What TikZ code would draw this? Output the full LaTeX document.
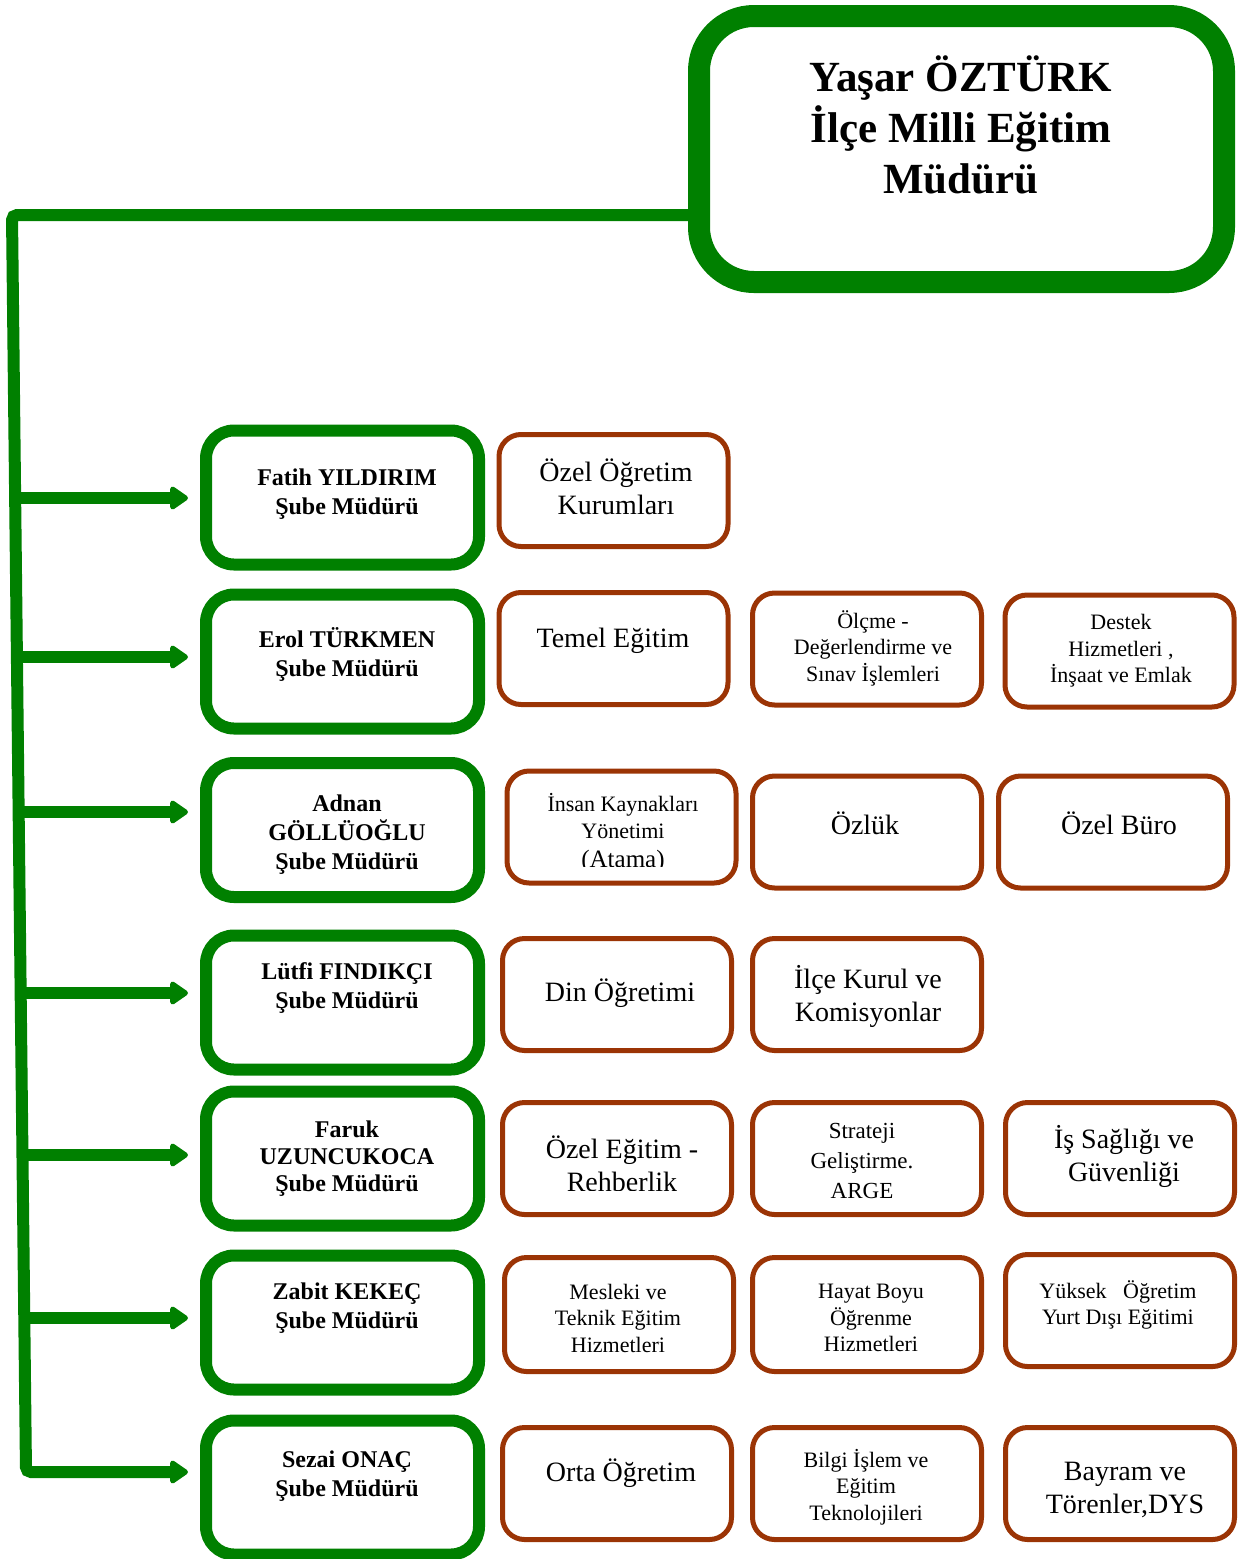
\documentclass[tikz,border=0pt]{standalone}
\usepackage{fontspec}
\setmainfont{Liberation Serif}
\usetikzlibrary{arrows.meta}
\definecolor{G}{RGB}{0,128,0}
\definecolor{Br}{RGB}{155,52,5}
\begin{document}
\begin{tikzpicture}[x=1pt,y=-1pt,
  gbox/.style={draw=G, line width=12pt, rounded corners=28pt, minimum width=273pt, minimum height=134pt, inner sep=0pt, outer sep=0pt},
  bbox/.style={draw=Br, line width=5pt, rounded corners=22pt, minimum width=229pt, minimum height=112pt, inner sep=0pt, outer sep=0pt},
  gtxt/.style={font=\fontsize{24}{29}\selectfont\bfseries, align=center, inner sep=0pt},
  ltxt/.style={font=\fontsize{28}{33}\selectfont, align=center, inner sep=0pt},
  stxt/.style={font=\fontsize{22}{26.5}\selectfont, align=center, inner sep=0pt},
  arr/.style={draw=G, line width=12pt, -{Triangle[length=20pt,width=26pt,round]}, shorten >=18pt},
]
\useasboundingbox (0,0) rectangle (1240,1559);

% main box
\node[draw=G, line width=22pt, rounded corners=55pt, minimum width=525pt, minimum height=266pt, outer sep=0pt] (main) at (961.5,149) {};
\node[font=\fontsize{43}{51}\selectfont\bfseries, align=center, inner sep=0pt] (mainT) at (961,125) {Yaşar ÖZTÜRK\\İlçe Milli Eğitim\\Müdürü};

% green boxes
\node[gbox] (g1) at (342.5,497.5) {};
\node[gbox] (g2) at (342.5,661.5) {};
\node[gbox] (g3) at (342.5,830) {};
\node[gbox] (g4) at (342.5,1002.5) {};
\node[gbox] (g5) at (342.5,1158.5) {};
\node[gbox] (g6) at (342.5,1322.5) {};
\node[gbox] (g7) at (342.5,1487.5) {};

\node[gtxt] (g1t) at (347,494) {Fatih YILDIRIM\\Şube Müdürü};
\node[gtxt] (g2t) at (347,654) {Erol TÜRKMEN\\Şube Müdürü};
\node[gtxt] (g3t) at (347,835) {Adnan\\GÖLLÜOĞLU\\Şube Müdürü};
\node[gtxt] (g4t) at (347,988) {Lütfi FINDIKÇI\\Şube Müdürü};
\node[gtxt, font=\fontsize{24}{27}\selectfont\bfseries] (g5t) at (347,1159) {Faruk\\UZUNCUKOCA\\Şube Müdürü};
\node[gtxt] (g6t) at (347,1308) {Zabit KEKEÇ\\Şube Müdürü};
\node[gtxt] (g7t) at (347,1476) {Sezai ONAÇ\\Şube Müdürü};

% connectors
\coordinate (tl) at (12,215);
\coordinate (bl) at (26,1472);
\draw[arr, rounded corners=5pt] (main.west |- tl) -- (tl) -- (bl) -- (bl -| g7.west);
\coordinate (j1) at (15.2,498);
\coordinate (j2) at (16.9,657);
\coordinate (j3) at (18.7,812);
\coordinate (j4) at (20.7,993);
\coordinate (j5) at (22.5,1155);
\coordinate (j6) at (24.3,1318);
\draw[arr] (j1) -- (j1 -| g1.west);
\draw[arr] (j2) -- (j2 -| g2.west);
\draw[arr] (j3) -- (j3 -| g3.west);
\draw[arr] (j4) -- (j4 -| g4.west);
\draw[arr] (j5) -- (j5 -| g5.west);
\draw[arr] (j6) -- (j6 -| g6.west);

% brown boxes
\node[bbox] (r1a) at (613.5,490.5) {};
\node[bbox] (r2a) at (613.5,648.5) {};
\node[bbox] (r2b) at (867,649) {};
\node[bbox] (r2c) at (1119.5,651) {};
\node[bbox] (r3a) at (621.5,827) {};
\node[bbox] (r3b) at (867,832) {};
\node[bbox] (r3c) at (1113,832) {};
\node[bbox] (r4a) at (617,994.5) {};
\node[bbox] (r4b) at (867,994.5) {};
\node[bbox] (r5a) at (617,1158.5) {};
\node[bbox] (r5b) at (867,1158.5) {};
\node[bbox] (r5c) at (1120,1158.5) {};
\node[bbox, minimum height=114pt] (r6a) at (619,1314.5) {};
\node[bbox, minimum height=114pt] (r6b) at (867,1314.5) {};
\node[bbox] (r6c) at (1120,1310.5) {};
\node[bbox] (r7a) at (617,1483.5) {};
\node[bbox] (r7b) at (867,1483.5) {};
\node[bbox] (r7c) at (1120,1483.5) {};

% brown box texts
\node[ltxt] (r1at) at (616,487) {Özel Öğretim\\Kurumları};
\node[ltxt] (r2at) at (613,641) {Temel Eğitim};
\node[stxt] (r2bt) at (873,648) {Ölçme -\\Değerlendirme ve\\Sınav İşlemleri};
\node[stxt] (r2ct) at (1121,651) {Destek\\Hizmetleri ,\\İnşaat ve Emlak};
\node[stxt] (r3at) at (623,816) {İnsan Kaynakları\\Yönetimi};
\begin{scope}
\clip (505,840) rectangle (740,866);
\node[font=\fontsize{25}{30}\selectfont, inner sep=0pt] (r3at2) at (623,861) {(Atama)};
\end{scope}
\node[ltxt] (r3bt) at (865,823) {Özlük};
\node[ltxt] (r3ct) at (1119,823) {Özel Büro};
\node[ltxt] (r4at) at (620,993) {Din Öğretimi};
\node[ltxt] (r4bt) at (868,996) {İlçe Kurul ve\\Komisyonlar};
\begin{scope}
\clip (505,1105) rectangle (730,1190);
\node[ltxt] (r5at) at (622,1164) {Özel Eğitim -\\Rehberlik};
\end{scope}
\node[ltxt, font=\fontsize{23}{30}\selectfont] (r5bt) at (862,1161) {Strateji\\Geliştirme.\\ARGE};
\node[ltxt] (r5ct) at (1124,1156) {İş Sağlığı ve\\Güvenliği};
\node[stxt] (r6at) at (618,1318) {Mesleki ve\\Teknik Eğitim\\Hizmetleri};
\node[stxt] (r6bt) at (871,1318) {Hayat Boyu\\Öğrenme\\Hizmetleri};
\node[stxt] (r6ct) at (1118,1305) {Yüksek\ \ \ Öğretim\\Yurt Dışı Eğitimi};
\node[ltxt] (r7at) at (621,1473) {Orta Öğretim};
\node[stxt] (r7bt) at (866,1487) {Bilgi İşlem ve\\Eğitim\\Teknolojileri};
\node[ltxt] (r7ct) at (1125,1490) {Bayram ve\\Törenler,DYS};
\end{tikzpicture}
\end{document}
